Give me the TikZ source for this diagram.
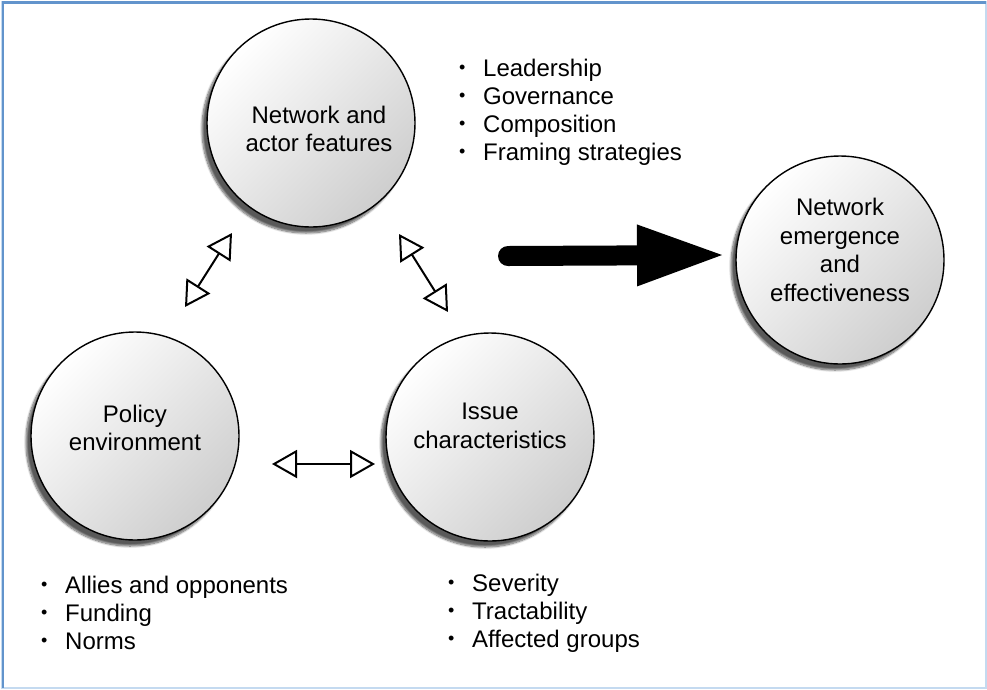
\documentclass[tikz,border=0pt]{standalone}
\usepackage{fontspec}
\setmainfont{Liberation Sans}
\usetikzlibrary{arrows.meta,shadows.blur}

\definecolor{framedark}{RGB}{98,148,204}
\definecolor{framelight}{RGB}{196,218,240}
\definecolor{ballgray}{RGB}{206,206,206}

\tikzset{
  ball/.style={circle, draw=black, line width=1.4pt, minimum size=208pt,
    inner sep=0pt, top color=white, bottom color=ballgray, shading angle=45,
    blur shadow={shadow xshift=-5pt, shadow yshift=-6pt,
      shadow blur steps=10, shadow opacity=65}},
  balltext/.style={inner sep=0pt, align=center,
    font=\fontsize{24}{28.5}\selectfont},
  itemlist/.style={inner sep=0pt, align=left, anchor=base west,
    font=\fontsize{24}{28}\selectfont},
  twoway/.style={line width=2pt,
    {Triangle[open,length=25pt,width=28pt]}-{Triangle[open,length=25pt,width=28pt]}},
  bigarrow/.style={line width=20pt, line cap=round,
    -{Triangle[length=85pt,width=62pt,line width=0pt]}}
}
\newcommand{\bul}{\makebox[24pt][l]{\raisebox{2.5pt}{\fontsize{18}{18}\selectfont\textbullet}}}

\begin{document}
\begin{tikzpicture}[x=1pt,y=-1pt]
  \useasboundingbox (0,0) rectangle (987,689);
  % frame
  \draw[framelight, line width=1.2pt] (2,2) rectangle (986,688);
  \draw[framedark, line width=2.6pt] (3,688) -- (3,2.3) -- (986,2.3);

  % circles
  \node[ball] (net) at (311,123) {};
  \node[ball] (pol) at (135,436) {};
  \node[ball] (iss) at (490,437) {};
  \node[ball] (eff) at (840,260) {};

  % circle captions
  \node[balltext, xshift=8pt, yshift=-6pt] (nettext) at (net) {Network and\\actor features};
  \node[balltext, yshift=8pt] (poltext) at (pol) {Policy\\environment};
  \node[balltext, yshift=11pt] (isstext) at (iss) {Issue\\characteristics};
  \node[balltext, yshift=10pt] (efftext) at (eff) {Network\\emergence\\and\\effectiveness};

  % bullet lists (anchored at the baseline of their last line)
  \node[itemlist] (netlist) at (459,160)
    {\bul Leadership\\\bul Governance\\\bul Composition\\\bul Framing strategies};
  \node[itemlist] (pollist) at (41,649)
    {\bul Allies and opponents\\\bul Funding\\\bul Norms};
  \node[itemlist] (isslist) at (448,647)
    {\bul Severity\\\bul Tractability\\\bul Affected groups};

  % two-way links
  \coordinate (pn1) at (185,307); \coordinate (pn2) at (232,233);
  \coordinate (ni1) at (399,234); \coordinate (ni2) at (448,312);
  \coordinate (pi1) at (272,464); \coordinate (pi2) at (375,464);
  \draw[twoway] (pn1) -- (pn2);
  \draw[twoway] (ni1) -- (ni2);
  \draw[twoway] (pi1) -- (pi2);

  % main arrow
  \coordinate (b1) at (508,256); \coordinate (b2) at (722,255);
  \draw[bigarrow] (b1) -- (b2);
\end{tikzpicture}
\end{document}
